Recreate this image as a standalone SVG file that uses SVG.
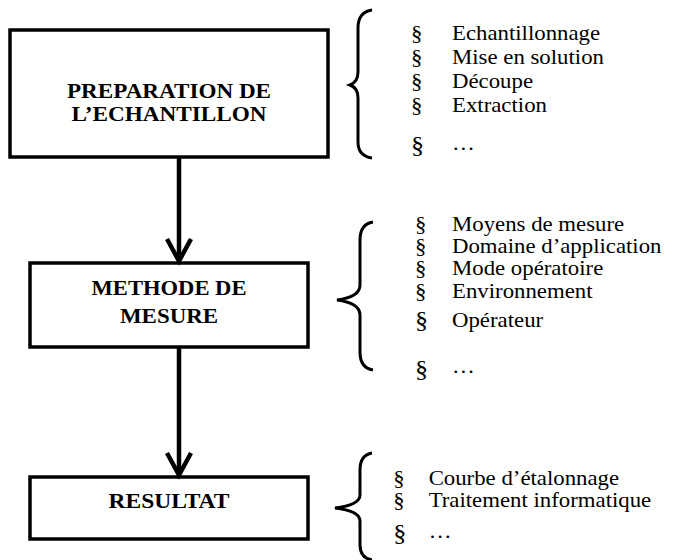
<svg xmlns="http://www.w3.org/2000/svg" width="682" height="560" viewBox="0 0 682 560">
<defs>
<style>
.box{fill:#fff;stroke:#000;stroke-width:3.5}
.title{font-family:"Liberation Serif","Times New Roman",serif;font-weight:bold;font-size:21px;text-anchor:middle;fill:#000}
.item{font-family:"Liberation Serif","Times New Roman",serif;font-size:20px;fill:#000}
.big{font-size:23px}
.brace{fill:none;stroke:#000;stroke-width:3;stroke-linejoin:miter}
.conn{fill:none;stroke:#000;stroke-width:4.5}
</style>
</defs>
<rect width="682" height="560" fill="#fff"/>
<g id="node-preparation">
<rect class="box" x="10" y="30" width="318" height="127"/>
<text class="title" x="169" y="98" textLength="204" lengthAdjust="spacingAndGlyphs">PREPARATION DE</text>
<text class="title" x="169" y="121" textLength="195" lengthAdjust="spacingAndGlyphs">L’ECHANTILLON</text>
</g>
<g id="node-methode">
<rect class="box" x="30" y="263" width="278" height="84"/>
<text class="title" x="169" y="295" textLength="155" lengthAdjust="spacingAndGlyphs">METHODE DE</text>
<text class="title" x="169" y="323" textLength="98" lengthAdjust="spacingAndGlyphs">MESURE</text>
</g>
<g id="node-resultat">
<rect class="box" x="30" y="477" width="278" height="62"/>
<text class="title" x="169" y="508" textLength="121" lengthAdjust="spacingAndGlyphs">RESULTAT</text>
</g>
<g id="connectors">
<path class="conn" d="M179 157 V260"/>
<path class="conn" d="M167 239 L179 261 L191 239"/>
<path class="conn" d="M179 347 V474"/>
<path class="conn" d="M167 453 L179 475 L191 453"/>
</g>
<g id="list-preparation">
<path class="brace" d="M372 10 Q358 12 358 28 V72 Q358 82 350 85 Q358 88 358 98 V142 Q358 156 372 158"/>
<g transform="matrix(1.14,0,0,1,0,0)">
<text class="item" x="360.5" y="40">§</text><text class="item" x="396.5" y="40">Echantillonnage</text>
<text class="item" x="360.5" y="64">§</text><text class="item" x="396.5" y="64">Mise en solution</text>
<text class="item" x="360.5" y="88">§</text><text class="item" x="396.5" y="88">Découpe</text>
<text class="item" x="360.5" y="112">§</text><text class="item" x="396.5" y="112">Extraction</text>
<text class="item big" x="360.5" y="153">§</text><text class="item" x="396.5" y="150">…</text>
</g>
</g>
<g id="list-methode">
<path class="brace" d="M373 222 Q360 224 360 240 V285 Q360 297 337 300 Q360 303 360 315 V352 Q360 368 373 370"/>
<g transform="matrix(1.14,0,0,1,0,0)">
<text class="item" x="364" y="231">§</text><text class="item" x="396.5" y="231">Moyens de mesure</text>
<text class="item" x="364" y="253">§</text><text class="item" x="396.5" y="253">Domaine d’application</text>
<text class="item" x="364" y="275">§</text><text class="item" x="396.5" y="275">Mode opératoire</text>
<text class="item" x="364" y="298">§</text><text class="item" x="396.5" y="298">Environnement</text>
<text class="item big" x="364" y="328">§</text><text class="item" x="396.5" y="327">Opérateur</text>
<text class="item big" x="364" y="377">§</text><text class="item" x="396.5" y="373">…</text>
</g>
</g>
<g id="list-resultat">
<path class="brace" d="M372 453 Q360 455 360 470 V495 Q360 505 335 508 Q360 511 360 521 V545 Q360 558 372 560"/>
<g transform="matrix(1.14,0,0,1,0,0)">
<text class="item" x="345" y="485">§</text><text class="item" x="376" y="485">Courbe d’étalonnage</text>
<text class="item" x="345" y="507">§</text><text class="item" x="376" y="507">Traitement informatique</text>
<text class="item big" x="345" y="541">§</text><text class="item" x="376" y="538">…</text>
</g>
</g>
</svg>
